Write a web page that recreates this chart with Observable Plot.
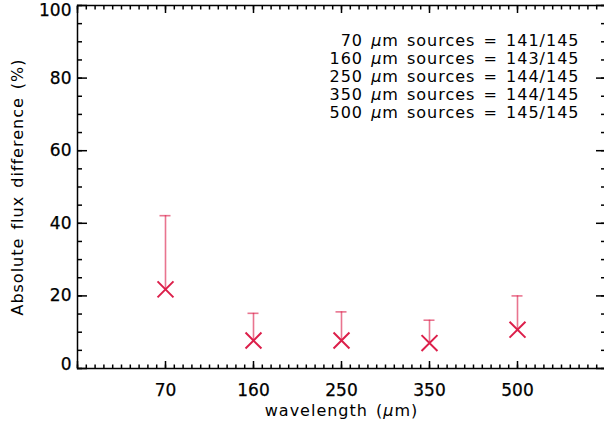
<!DOCTYPE html>
<html><head><meta charset="utf-8">
<script src="https://cdn.jsdelivr.net/npm/d3@7"></script>
<script src="https://cdn.jsdelivr.net/npm/@observablehq/plot@0.6"></script>
<style>body{margin:0;background:#fff}</style>
</head><body><div id="chart"></div>
<script>
const wavelengths = ["70", "160", "250", "350", "500"];
const medianDiff = [21.8, 7.7, 7.7, 7.0, 10.7];
const upperDiff = [42.1, 15.2, 15.6, 13.3, 20.0];
const detected = [141, 143, 144, 144, 145];
const totalSources = 145;
const yMajorTicks = [0, 20, 40, 60, 80, 100];
const yMinorTicks = d3.range(0, 101, 5);
const xMajorTicks = d3.range(0, 7);
const xMinorTicks = d3.range(0, 61).map(d => d / 10);

const data = wavelengths.map((w, i) => ({w, pos: i + 1, value: medianDiff[i], upper: upperDiff[i]}));
const legendText = wavelengths.map((w, i) => `${w} µm sources = ${detected[i]}/${totalSources}`).join("\n");

const ink = "#000", lw = 1.5, markColor = "#dc1f4a";
const tk = {stroke: ink, strokeWidth: lw, text: null, label: null};
const lab = {tickSize: 0, label: null, fill: ink, fontSize: 17};

const plot = Plot.plot({
  width: 604, height: 428,
  marginLeft: 77, marginRight: -1, marginTop: 5, marginBottom: 60,
  x: {domain: [0, 6]},
  y: {domain: [0, 100]},
  style: {fontFamily: "DejaVu Sans", fontSize: "16px", background: "#fff", color: "#000"},
  marks: [
    Plot.axisY({anchor: "left", ticks: yMinorTicks, tickSize: -5, ...tk}),
    Plot.axisY({anchor: "left", ticks: yMajorTicks, tickSize: -10, ...tk}),
    Plot.axisY({anchor: "right", ticks: yMinorTicks, tickSize: -5, ...tk}),
    Plot.axisY({anchor: "right", ticks: yMajorTicks, tickSize: -10, ...tk}),
    Plot.axisX({anchor: "bottom", ticks: xMinorTicks, tickSize: -3.5, ...tk}),
    Plot.axisX({anchor: "bottom", ticks: xMajorTicks, tickSize: -7, ...tk}),
    Plot.axisX({anchor: "top", ticks: xMinorTicks, tickSize: -3.5, ...tk}),
    Plot.axisX({anchor: "top", ticks: xMajorTicks, tickSize: -7, ...tk}),
    Plot.axisY({anchor: "left", ticks: yMajorTicks.slice(1, -1), tickPadding: 6, ...lab}),
    Plot.axisY({anchor: "left", ticks: [0], tickPadding: 6, dy: -4, ...lab}),
    Plot.axisY({anchor: "left", ticks: [100], tickPadding: 6, dy: 5.5, ...lab}),
    Plot.axisX({anchor: "bottom", ticks: data.map(d => d.pos), tickFormat: d => wavelengths[d - 1], tickPadding: 15, ...lab}),
    Plot.frame({stroke: ink, strokeWidth: lw}),
    Plot.ruleX(data, {x: "pos", y1: "value", y2: "upper", stroke: markColor, strokeOpacity: 0.62, strokeWidth: 1.6}),
    Plot.ruleY(data, {y: "upper", x1: "pos", x2: "pos", insetLeft: -5.5, insetRight: -5.5, stroke: markColor, strokeOpacity: 0.62, strokeWidth: 1.6}),
    Plot.dot(data, {x: "pos", y: "value", symbol: "times", r: 7.3, stroke: markColor, strokeWidth: 2}),
    Plot.text([legendText], {text: d => d, frameAnchor: "top-right", textAnchor: "end", lineAnchor: "top", lineHeight: 1.125, dx: -26, dy: 27.6, fontSize: 16, fill: ink}),
    Plot.text(["wavelength (µm)"], {text: d => d, frameAnchor: "bottom", textAnchor: "middle", lineAnchor: "middle", dy: 42, fontSize: 16, fill: ink}),
    Plot.text(["Absolute flux difference (%)"], {text: d => d, frameAnchor: "left", textAnchor: "middle", lineAnchor: "middle", rotate: -90, dx: -60, fontSize: 16, fill: ink})
  ]
});

// letter spacing for the free text, heavier tick labels, italic mu
plot.querySelectorAll("g[aria-label='text'] text").forEach(t => {
  t.setAttribute("letter-spacing", "1px");
  t.setAttribute("word-spacing", "2px");
});
plot.querySelectorAll("g[aria-label$='tick label'] text").forEach(t => {
  t.setAttribute("stroke", ink);
  t.setAttribute("stroke-width", "0.25");
});
const walker = document.createTreeWalker(plot, NodeFilter.SHOW_TEXT);
const nodes = [];
while (walker.nextNode()) if (walker.currentNode.nodeValue.includes("µ")) nodes.push(walker.currentNode);
for (const n of nodes) {
  const parts = n.nodeValue.split("µ");
  const frag = document.createDocumentFragment();
  parts.forEach((p, i) => {
    if (i > 0) {
      const t = document.createElementNS("http://www.w3.org/2000/svg", "tspan");
      t.setAttribute("font-style", "italic");
      t.textContent = "µ";
      frag.appendChild(t);
    }
    if (p) frag.appendChild(document.createTextNode(p));
  });
  n.parentNode.replaceChild(frag, n);
}
document.getElementById("chart").appendChild(plot);
</script>
</body></html>
